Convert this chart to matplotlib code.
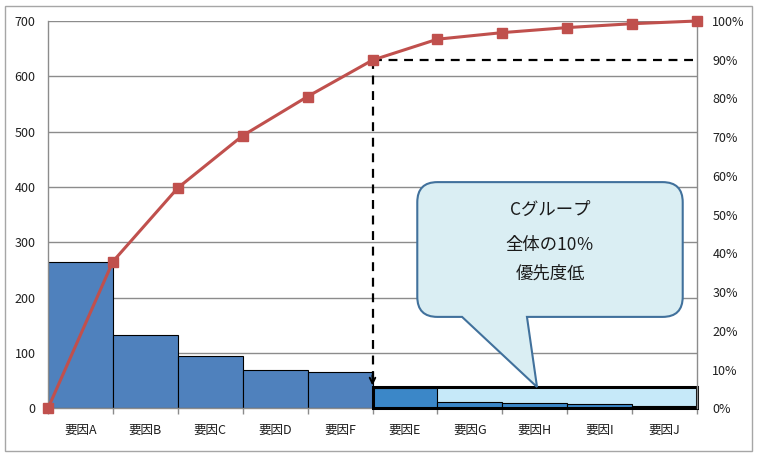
import matplotlib
matplotlib.use("Agg")
import matplotlib.pyplot as plt
from matplotlib.path import Path
from matplotlib.patches import PathPatch, Rectangle
from matplotlib.ticker import FixedLocator, NullFormatter, FixedFormatter

plt.rcParams['font.family'] = ['Noto Sans CJK JP', 'DejaVu Sans']

# ---- data ----
categories = ["要因A", "要因B", "要因C", "要因D", "要因F",
              "要因E", "要因G", "要因H", "要因I", "要因J"]
counts = [264, 132, 94, 70, 66, 37, 12, 9, 7, 5]
cum_pct = [0, 37.9, 56.9, 70.4, 80.5, 89.9, 95.3, 97.0, 98.3, 99.3, 100]
left_ticks = [0, 100, 200, 300, 400, 500, 600, 700]
right_ticks = [0, 10, 20, 30, 40, 50, 60, 70, 80, 90, 100]
right_labels = [f"{v}%" for v in right_ticks]
callout_lines = ["Cグループ", "全体の10％", "優先度低"]
group_c_start = 5      # index of first C-group category
threshold_pct = 90
group_c_height = 38

W, H = 757, 457
fig = plt.figure(figsize=(W / 100, H / 100), dpi=100)
fig.patch.set_facecolor("white")

# outer border
fig.add_artist(Rectangle((5 / W, 6 / H), (752 - 5) / W, (451 - 6) / H,
                         transform=fig.transFigure, fill=False,
                         edgecolor="#a6a6a6", linewidth=1.0))

ax = fig.add_axes([48 / W, (H - 408.3) / H, (697 - 48) / W, (408.3 - 21) / H])
n = len(categories)
xs = list(range(n))
colors = ["#4f81bd"] * group_c_start + ["#3b87c8"] * (n - group_c_start)

# light background for C group
ax.add_patch(Rectangle((group_c_start - 0.5, 0), n - group_c_start, group_c_height,
                       facecolor="#c6e9f9", edgecolor="none", zorder=1))
ax.bar(xs, counts, width=1.0, color=colors, edgecolor="black", linewidth=0.8, zorder=2)
ax.add_patch(Rectangle((group_c_start - 0.5, 0), n - group_c_start, group_c_height,
                       facecolor="none", edgecolor="black", linewidth=2.2, zorder=3,
                       clip_on=False))

ax.set_xlim(-0.5, n - 0.5)
ax.set_ylim(0, 700)
ax.yaxis.set_major_locator(FixedLocator(left_ticks))
ax.yaxis.grid(True, color="#8c8c8c", linewidth=1.0, zorder=0)
ax.set_axisbelow(True)
ax.tick_params(axis="y", length=0, pad=9, labelsize=9, labelcolor="#1f1f1f")

ax.xaxis.set_major_locator(FixedLocator([i - 0.5 for i in range(n + 1)]))
ax.xaxis.set_major_formatter(NullFormatter())
ax.xaxis.set_minor_locator(FixedLocator(xs))
ax.xaxis.set_minor_formatter(FixedFormatter(categories))
ax.tick_params(axis="x", which="major", length=4, color="#8c8c8c", width=1)
ax.tick_params(axis="x", which="minor", length=0, pad=11, labelsize=9,
               labelcolor="#1f1f1f")
for s in ["top", "right"]:
    ax.spines[s].set_visible(False)
for s in ["left", "bottom"]:
    ax.spines[s].set_color("#8c8c8c")
    ax.spines[s].set_linewidth(1.0)

ax2 = ax.twinx()
ax2.set_ylim(0, 100)
ax2.set_xlim(-0.5, n - 0.5)
ax2.yaxis.set_major_locator(FixedLocator(right_ticks))
ax2.yaxis.set_major_formatter(FixedFormatter(right_labels))
ax2.tick_params(axis="y", length=0, pad=11, labelsize=9, labelcolor="#1f1f1f")
for s in ["top", "left", "bottom"]:
    ax2.spines[s].set_visible(False)
ax2.spines["right"].set_color("#8c8c8c")
ax2.spines["right"].set_linewidth(1.0)

line_x = [i - 0.5 for i in range(n + 1)]

# dashed guide lines
xb = group_c_start - 0.5
ax2.plot([xb, n - 0.5], [threshold_pct, threshold_pct], color="black",
         linestyle=(0, (4, 3)), linewidth=1.6, zorder=4)
ax2.plot([xb, xb], [threshold_pct, 8.0], color="black",
         linestyle=(0, (4, 3)), linewidth=1.6, zorder=4)
ax2.annotate("", xy=(xb, 5.9), xytext=(xb, 8.5),
             arrowprops=dict(arrowstyle="->", color="black", lw=1.4,
                             mutation_scale=10, shrinkA=0, shrinkB=0), zorder=4)

# cumulative line
ax2.plot(line_x, cum_pct, color="#c0504d", linewidth=2.2, marker="s",
         markersize=6.5, markerfacecolor="#c0504d", markeredgecolor="#c0504d",
         zorder=5, clip_on=False)

# callout
x0, x1, y0, y1 = 5.19, 9.28, 23.6, 58.4
rx, ry = 0.31, 5.2
pb1, pb2, tipx, tipy = 5.88, 6.88, 7.035, 5.5
verts = [(x0 + rx, y1), (x1 - rx, y1), (x1, y1), (x1, y1 - ry),
         (x1, y0 + ry), (x1, y0), (x1 - rx, y0),
         (pb2, y0), (tipx, tipy), (pb1, y0),
         (x0 + rx, y0), (x0, y0), (x0, y0 + ry),
         (x0, y1 - ry), (x0, y1), (x0 + rx, y1), (x0 + rx, y1)]
codes = [Path.MOVETO, Path.LINETO, Path.CURVE3, Path.CURVE3,
         Path.LINETO, Path.CURVE3, Path.CURVE3,
         Path.LINETO, Path.LINETO, Path.LINETO,
         Path.LINETO, Path.CURVE3, Path.CURVE3,
         Path.LINETO, Path.CURVE3, Path.CURVE3, Path.CLOSEPOLY]
ax2.add_patch(PathPatch(Path(verts, codes), facecolor="#daeef3",
                        edgecolor="#41719c", linewidth=1.5, zorder=6))
cx = (x0 + x1) / 2
for txt, ty in zip(callout_lines, [51.2, 42.2, 34.7]):
    ax2.text(cx, ty, txt, ha="center", va="center", fontsize=12.5,
             color="#1a1a1a", zorder=7)

fig.savefig("out.png", dpi=100)
